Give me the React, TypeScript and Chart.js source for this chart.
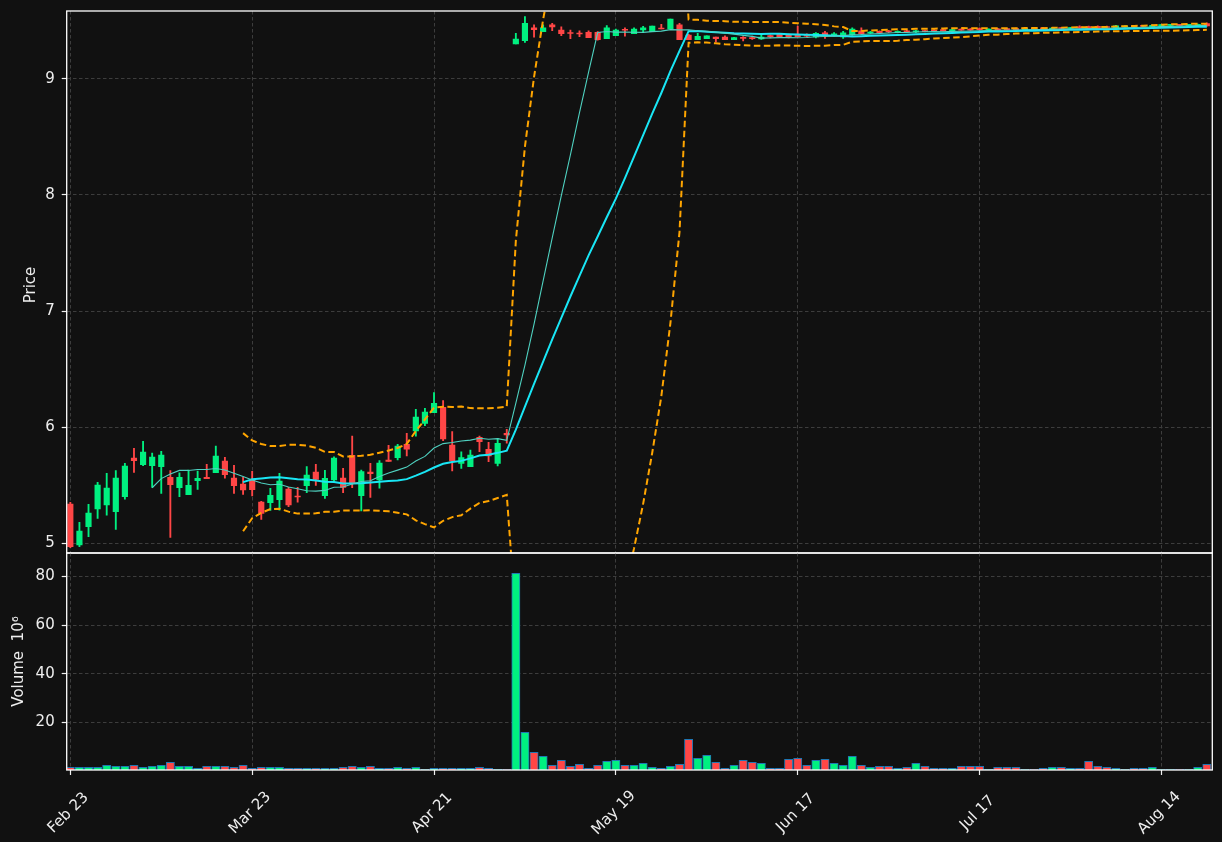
import React, { useEffect, useRef } from 'react';
import { Chart, registerables } from 'chart.js';

Chart.register(...registerables);

// ---------- data ----------
const tickIndex = [0, 20, 40, 60, 80, 100, 120];
const tickLabels = ['Feb 23', 'Mar 23', 'Apr 21', 'May 19', 'Jun 17', 'Jul 17', 'Aug 14'];
const priceTicks = [5, 6, 7, 8, 9];
const volumeTicks = [20, 40, 60, 80];

const opens = [
  5.336, 4.983, 5.141, 5.293, 5.328, 5.270, 5.399, 5.733, 5.675, 5.667,
  5.658, 5.566, 5.477, 5.417, 5.537, 5.566, 5.606, 5.707, 5.560, 5.509,
  5.543, 5.353, 5.348, 5.373, 5.466, 5.405, 5.494, 5.612, 5.408, 5.543,
  5.560, 5.756, 5.408, 5.612, 5.543, 5.716, 5.736, 5.851, 5.966, 6.032,
  6.123, 6.170, 5.845, 5.687, 5.658, 5.911, 5.808, 5.687, 5.946, 9.302,
  9.330, 9.440, 9.408, 9.466, 9.422, 9.398, 9.394, 9.403, 9.403, 9.348,
  9.373, 9.425, 9.390, 9.422, 9.408, 9.437, 9.431, 9.466, 9.379, 9.339,
  9.348, 9.362, 9.362, 9.339, 9.355, 9.352, 9.345, 9.370, 9.385, 9.385,
  9.383, 9.380, 9.362, 9.397, 9.380, 9.362, 9.379, 9.414, 9.395, 9.410,
  9.415, 9.400, 9.415, 9.405, 9.418, 9.420, 9.425, 9.415, 9.430, 9.430,
  9.435, 9.422, 9.432, 9.432, 9.433, 9.426, 9.436, 9.440, 9.430, 9.442,
  9.435, 9.448, 9.452, 9.454, 9.452, 9.442, 9.448, 9.460, 9.460, 9.452,
  9.454, 9.462, 9.470, 9.462, 9.462, 9.477,
];
const highs = [
  5.351, 5.178, 5.333, 5.523, 5.600, 5.624, 5.687, 5.816, 5.877, 5.776,
  5.790, 5.624, 5.606, 5.629, 5.621, 5.678, 5.836, 5.739, 5.670, 5.566,
  5.618, 5.360, 5.472, 5.600, 5.480, 5.480, 5.658, 5.678, 5.627, 5.744,
  5.644, 5.922, 5.629, 5.687, 5.710, 5.842, 5.851, 5.946, 6.153, 6.161,
  6.296, 6.227, 5.960, 5.787, 5.802, 5.922, 5.868, 5.903, 5.980, 9.394,
  9.537, 9.466, 9.466, 9.480, 9.450, 9.422, 9.414, 9.414, 9.408, 9.460,
  9.430, 9.442, 9.440, 9.454, 9.457, 9.471, 9.517, 9.480, 9.385, 9.394,
  9.371, 9.362, 9.373, 9.360, 9.365, 9.370, 9.380, 9.380, 9.390, 9.388,
  9.457, 9.390, 9.400, 9.410, 9.400, 9.410, 9.440, 9.440, 9.410, 9.415,
  9.420, 9.415, 9.420, 9.420, 9.420, 9.425, 9.428, 9.430, 9.432, 9.435,
  9.440, 9.432, 9.436, 9.435, 9.438, 9.436, 9.440, 9.446, 9.442, 9.445,
  9.446, 9.458, 9.456, 9.458, 9.455, 9.462, 9.460, 9.462, 9.463, 9.466,
  9.470, 9.470, 9.472, 9.472, 9.474, 9.485,
];
const lows = [
  4.960, 4.968, 5.054, 5.213, 5.241, 5.118, 5.377, 5.609, 5.667, 5.480,
  5.428, 5.049, 5.399, 5.417, 5.463, 5.554, 5.606, 5.558, 5.428, 5.420,
  5.405, 5.204, 5.282, 5.284, 5.313, 5.353, 5.434, 5.497, 5.385, 5.534,
  5.434, 5.477, 5.276, 5.394, 5.472, 5.704, 5.716, 5.750, 5.922, 6.011,
  6.123, 5.882, 5.621, 5.644, 5.658, 5.787, 5.701, 5.664, 5.860, 9.302,
  9.316, 9.360, 9.408, 9.417, 9.373, 9.347, 9.365, 9.356, 9.334, 9.348,
  9.373, 9.368, 9.390, 9.405, 9.408, 9.431, 9.431, 9.339, 9.339, 9.339,
  9.348, 9.319, 9.339, 9.339, 9.328, 9.342, 9.340, 9.355, 9.360, 9.355,
  9.360, 9.360, 9.355, 9.350, 9.370, 9.350, 9.375, 9.385, 9.390, 9.395,
  9.400, 9.398, 9.400, 9.400, 9.405, 9.410, 9.412, 9.412, 9.418, 9.418,
  9.420, 9.420, 9.420, 9.420, 9.422, 9.424, 9.426, 9.428, 9.428, 9.430,
  9.432, 9.435, 9.436, 9.434, 9.440, 9.440, 9.446, 9.448, 9.450, 9.450,
  9.452, 9.460, 9.458, 9.460, 9.460, 9.456,
];
const closes = [
  4.969, 5.103, 5.259, 5.500, 5.474, 5.560, 5.664, 5.710, 5.784, 5.741,
  5.759, 5.503, 5.566, 5.497, 5.558, 5.554, 5.750, 5.589, 5.494, 5.457,
  5.459, 5.256, 5.411, 5.534, 5.328, 5.397, 5.586, 5.549, 5.558, 5.733,
  5.480, 5.520, 5.615, 5.598, 5.690, 5.704, 5.836, 5.810, 6.086, 6.129,
  6.204, 5.897, 5.707, 5.736, 5.759, 5.873, 5.750, 5.860, 5.931, 9.345,
  9.480, 9.425, 9.440, 9.448, 9.390, 9.392, 9.388, 9.356, 9.339, 9.440,
  9.422, 9.420, 9.431, 9.440, 9.457, 9.431, 9.517, 9.339, 9.339, 9.368,
  9.371, 9.348, 9.339, 9.356, 9.350, 9.348, 9.362, 9.365, 9.362, 9.362,
  9.365, 9.370, 9.394, 9.379, 9.390, 9.397, 9.431, 9.390, 9.405, 9.400,
  9.405, 9.410, 9.405, 9.415, 9.408, 9.412, 9.415, 9.425, 9.420, 9.420,
  9.425, 9.428, 9.424, 9.425, 9.426, 9.432, 9.430, 9.432, 9.438, 9.435,
  9.442, 9.440, 9.440, 9.437, 9.444, 9.458, 9.456, 9.452, 9.453, 9.462,
  9.468, 9.466, 9.462, 9.468, 9.470, 9.458,
];
// volume in millions
const volumes = [
  1.5, 1.5, 1.5, 1.5, 2.3, 1.9, 1.9, 2.3, 1.5, 1.9,
  2.3, 3.55, 1.9, 1.9, 1.1, 1.9, 1.9, 1.9, 1.5, 2.3,
  1.1, 1.5, 1.5, 1.5, 1.1, 1.1, 1.1, 1.1, 1.1, 1.1,
  1.5, 1.9, 1.5, 1.9, 1.1, 1.1, 1.5, 1.1, 1.5, 0.66,
  1.1, 1.1, 1.1, 1.1, 1.1, 1.5, 1.1, 0.66, 0.66, 81.2,
  15.9, 7.66, 6.0, 2.3, 4.37, 1.92, 2.74, 1.09, 2.3, 3.96,
  4.37, 2.3, 2.3, 3.15, 1.5, 1.09, 1.92, 2.74, 13.0, 5.2,
  6.43, 3.55, 1.09, 2.3, 4.37, 3.55, 3.15, 1.09, 1.09, 4.8,
  5.2, 2.3, 4.37, 4.8, 3.15, 2.3, 6.0, 2.3, 1.5, 1.92,
  1.92, 1.09, 1.5, 3.15, 1.92, 1.09, 1.09, 1.09, 1.92, 1.92,
  1.92, 0.66, 1.5, 1.5, 1.5, 0.66, 0.66, 1.09, 1.5, 1.5,
  1.09, 1.09, 3.96, 1.92, 1.5, 1.09, 0.66, 1.09, 1.09, 1.5,
  0.66, 0.66, 0.66, 0.66, 1.5, 2.74,
];

// ---------- style ----------
const BG = '#111111';
const UP = '#00f080';
const DOWN = '#ff4646';
const TEXT = '#eeeeee';
const GRID = '#3d3d3d';
const SMA_FAST = '#4fd1c0';
const SMA_SLOW = '#19e6f5';
const BAND = '#ffa500';
const VOL_EDGE = '#1f77b4';
const FONT = '"DejaVu Sans", sans-serif';

Chart.defaults.font.family = FONT;

// ---------- indicators (derived from closes) ----------
function sma(values: number[], n: number): (number | null)[] {
  return values.map((_, i) => {
    if (i < n - 1) return null;
    let s = 0;
    for (let k = i - n + 1; k <= i; k++) s += values[k];
    return s / n;
  });
}
function rollingStd(values: number[], n: number): (number | null)[] {
  return values.map((_, i) => {
    if (i < n - 1) return null;
    let s = 0;
    for (let k = i - n + 1; k <= i; k++) s += values[k];
    const m = s / n;
    let v = 0;
    for (let k = i - n + 1; k <= i; k++) v += (values[k] - m) * (values[k] - m);
    return Math.sqrt(v / (n - 1));
  });
}

const X_MIN = -0.4;
const X_MAX = 125.6;
const AXIS_W = 66.7;
const RIGHT_PAD = 9.7;

const setTicks = (vals: number[]) => (scale: any) => {
  scale.ticks = vals.map((v) => ({ value: v }));
};

const framePlugin = {
  id: 'frame',
  afterDraw(chart: any) {
    const { ctx, chartArea: a } = chart;
    ctx.save();
    ctx.strokeStyle = '#ffffff';
    ctx.lineWidth = 1.3;
    ctx.strokeRect(a.left, a.top, a.right - a.left, a.bottom - a.top);
    ctx.restore();
  },
};

function rotatedText(ctx: CanvasRenderingContext2D, text: string, x: number, y: number, angle: number) {
  ctx.save();
  ctx.translate(x, y);
  ctx.rotate(angle);
  ctx.textAlign = 'center';
  ctx.textBaseline = 'middle';
  ctx.fillText(text, 0, 0);
  ctx.restore();
}

export default function App() {
  const priceRef = useRef<HTMLCanvasElement>(null);
  const volRef = useRef<HTMLCanvasElement>(null);

  useEffect(() => {
    const colors = closes.map((c, i) => (c >= opens[i] ? UP : DOWN));
    const bodies = closes.map((c, i) => ({ x: i, y: [opens[i], c] }));
    const wicks = closes.map((_, i) => ({ x: i, y: [lows[i], highs[i]] }));
    const fast = sma(closes, 10);
    const slow = sma(closes, 20);
    const sd = rollingStd(closes, 20);
    const upper = slow.map((m, i) => (m == null ? null : m + 2 * (sd[i] as number)));
    const lower = slow.map((m, i) => (m == null ? null : m - 2 * (sd[i] as number)));
    const pts = (arr: (number | null)[]) => arr.map((y, i) => ({ x: i, y }));

    const xScale = (height: number, withTicks: boolean) => ({
      type: 'linear',
      min: X_MIN,
      max: X_MAX,
      offset: false,
      afterBuildTicks: setTicks(tickIndex),
      afterFit: (s: any) => {
        s.height = height;
        s.paddingLeft = 0;
        s.paddingRight = 0;
      },
      ticks: { display: false },
      grid: {
        color: GRID,
        lineWidth: 1,
        offset: false,
        drawTicks: withTicks,
        tickLength: 5,
        tickColor: TEXT,
        tickWidth: 1.2,
        tickBorderDash: [],
      },
      border: { display: false, dash: [3.5, 2.5] },
    });

    const yScale = (min: number, max: number, ticks: number[]) => ({
      type: 'linear',
      min,
      max,
      afterBuildTicks: setTicks(ticks),
      afterFit: (s: any) => {
        s.width = AXIS_W;
        s.paddingTop = 0;
        s.paddingBottom = 0;
      },
      ticks: { color: TEXT, font: { family: FONT, size: 15 }, padding: 7 },
      grid: {
        color: GRID,
        lineWidth: 1,
        drawTicks: true,
        tickLength: 5,
        tickColor: TEXT,
        tickWidth: 1.2,
        tickBorderDash: [],
      },
      border: { display: false, dash: [3.5, 2.5] },
    });

    const priceLabelPlugin = {
      id: 'priceLabel',
      afterDraw(chart: any) {
        const ctx = chart.ctx;
        ctx.save();
        ctx.fillStyle = TEXT;
        ctx.font = `15px ${FONT}`;
        rotatedText(ctx, 'Price', 31.5, 285, -Math.PI / 2);
        ctx.restore();
      },
    };

    const volLabelPlugin = {
      id: 'volLabel',
      afterDraw(chart: any) {
        const ctx = chart.ctx;
        const xs = chart.scales.x;
        ctx.save();
        ctx.fillStyle = TEXT;
        ctx.font = `15px ${FONT}`;
        rotatedText(ctx, 'Volume  10\u2076', 19.5, (chart.chartArea.top + chart.chartArea.bottom) / 2, -Math.PI / 2);
        tickIndex.forEach((v, k) => {
          const px = xs.getPixelForValue(v);
          rotatedText(ctx, tickLabels[k], px - 2, chart.chartArea.bottom + 43, -Math.PI / 4);
        });
        ctx.restore();
      },
    };

    const lineDs = (data: any[], color: string, width: number, dash: number[] = []) =>
      ({
        type: 'line',
        data,
        borderColor: color,
        borderWidth: width,
        borderDash: dash,
        pointRadius: 0,
        tension: 0,
        spanGaps: false,
        order: 0,
      }) as any;

    const priceChart = new Chart(priceRef.current as HTMLCanvasElement, {
      type: 'bar',
      data: {
        datasets: [
          lineDs(pts(fast), SMA_FAST, 1.1),
          lineDs(pts(slow), SMA_SLOW, 2),
          lineDs(pts(upper), BAND, 2, [6.5, 3.5]),
          lineDs(pts(lower), BAND, 2, [6.5, 3.5]),
          {
            type: 'bar',
            data: bodies,
            backgroundColor: colors,
            barThickness: 5.5,
            grouped: false,
            minBarLength: 1,
            borderWidth: 0,
            order: 1,
          } as any,
          {
            type: 'bar',
            data: wicks,
            backgroundColor: colors,
            barThickness: 1.2,
            grouped: false,
            minBarLength: 1,
            borderWidth: 0,
            order: 2,
          } as any,
        ],
      },
      options: {
        responsive: false,
        animation: false,
        events: [],
        layout: { autoPadding: false, padding: { left: 0, right: RIGHT_PAD, top: 11, bottom: 0 } },
        plugins: { legend: { display: false }, tooltip: { enabled: false } },
        scales: {
          x: xScale(47, false) as any,
          y: yScale(4.914, 9.586, priceTicks) as any,
        },
      },
      plugins: [framePlugin, priceLabelPlugin],
    });

    const volChart = new Chart(volRef.current as HTMLCanvasElement, {
      type: 'bar',
      data: {
        datasets: [
          {
            data: volumes.map((v, i) => ({ x: i, y: v })),
            backgroundColor: colors,
            borderColor: VOL_EDGE,
            borderWidth: 1,
            borderSkipped: false,
            barThickness: 8.3,
            grouped: false,
          } as any,
        ],
      },
      options: {
        responsive: false,
        animation: false,
        events: [],
        layout: { autoPadding: false, padding: { left: 0, right: RIGHT_PAD, top: 53, bottom: 0 } },
        plugins: { legend: { display: false }, tooltip: { enabled: false } },
        scales: {
          x: xScale(72, true) as any,
          y: yScale(0.4, 89.6, volumeTicks) as any,
        },
      },
      plugins: [framePlugin, volLabelPlugin],
    });

    return () => {
      priceChart.destroy();
      volChart.destroy();
    };
  }, []);

  return (
    <div
      style={{
        position: 'absolute',
        left: 0,
        top: 0,
        width: 1222,
        height: 842,
        background: BG,
        overflow: 'hidden',
      }}
    >
      <canvas
        ref={priceRef}
        width={1222}
        height={600}
        style={{ position: 'absolute', left: 0, top: 0, width: 1222, height: 600 }}
      />
      <canvas
        ref={volRef}
        width={1222}
        height={342}
        style={{ position: 'absolute', left: 0, top: 500, width: 1222, height: 342 }}
      />
    </div>
  );
}
